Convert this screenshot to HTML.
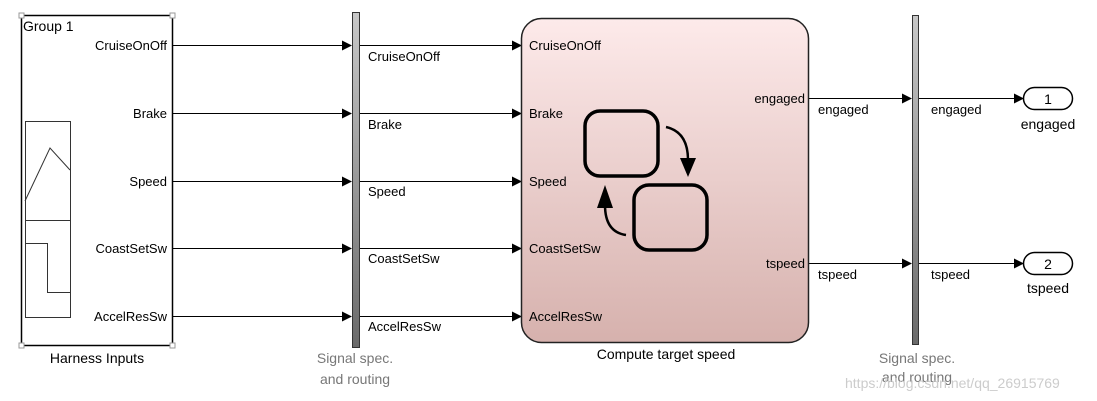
<!DOCTYPE html>
<html><head><style>body{margin:0;background:#fff}svg{display:block}text{font-family:"Liberation Sans",Arial,sans-serif;font-size:13px;fill:#000}.n{font-size:14px}</style></head><body>
<svg width="1097" height="401" viewBox="0 0 1097 401">
<defs>
<linearGradient id="cg" x1="0" y1="0" x2="0" y2="1"><stop offset="0" stop-color="#fdeaea"/><stop offset="1" stop-color="#d6b1ad"/></linearGradient>
<linearGradient id="bg" x1="0" y1="0" x2="0" y2="1"><stop offset="0" stop-color="#c8c8c8"/><stop offset="1" stop-color="#6a6a6a"/></linearGradient>
<marker id="a" markerWidth="10" markerHeight="10" refX="9" refY="5" orient="auto" markerUnits="userSpaceOnUse"><path d="M0,0 L10,5 L0,10 z" fill="#000"/></marker>
</defs>
<rect x="21.5" y="15.5" width="151" height="330" fill="#fff" stroke="#000" stroke-width="1.5"/>
<g fill="#fff" stroke="#999"><rect x="19" y="13" width="5" height="5"/><rect x="170" y="13" width="5" height="5"/><rect x="19" y="343" width="5" height="5"/><rect x="170" y="343" width="5" height="5"/></g>
<text x="23" y="31" class="n">Group 1</text>
<g text-anchor="end"><text x="167" y="50">CruiseOnOff</text><text x="167" y="118">Brake</text><text x="167" y="186">Speed</text><text x="167" y="253">CoastSetSw</text><text x="167" y="321">AccelResSw</text></g>
<g fill="none" stroke="#333" stroke-width="1"><rect x="25.5" y="121.5" width="45" height="196"/><line x1="25" y1="220.5" x2="70" y2="220.5"/><polyline points="25,201 50,148 70,170"/><polyline points="25,243.5 47.5,243.5 47.5,292.5 70,292.5"/></g>
<text x="97" y="363" text-anchor="middle" class="n">Harness Inputs</text>
<g stroke="#000" stroke-width="1" marker-end="url(#a)">
<line x1="173" y1="45.5" x2="351" y2="45.5"/><line x1="173" y1="113.5" x2="351" y2="113.5"/><line x1="173" y1="181.5" x2="351" y2="181.5"/><line x1="173" y1="248.5" x2="351" y2="248.5"/><line x1="173" y1="316.5" x2="351" y2="316.5"/>
<line x1="360" y1="45.5" x2="521" y2="45.5"/><line x1="360" y1="113.5" x2="521" y2="113.5"/><line x1="360" y1="181.5" x2="521" y2="181.5"/><line x1="360" y1="248.5" x2="521" y2="248.5"/><line x1="360" y1="316.5" x2="521" y2="316.5"/>
<line x1="809" y1="98.5" x2="911" y2="98.5"/><line x1="809" y1="263.5" x2="911" y2="263.5"/>
<line x1="919" y1="98.5" x2="1023" y2="98.5"/><line x1="919" y1="263.5" x2="1023" y2="263.5"/>
</g>
<rect x="352.5" y="12.5" width="7" height="335" fill="url(#bg)" stroke="#333"/>
<text x="368" y="61">CruiseOnOff</text><text x="368" y="129">Brake</text><text x="368" y="196">Speed</text><text x="368" y="263">CoastSetSw</text><text x="368" y="331">AccelResSw</text>
<text x="355" y="363" text-anchor="middle" class="n" style="fill:#777">Signal spec.</text><text x="355" y="384" text-anchor="middle" class="n" style="fill:#777">and routing</text>
<rect x="521.5" y="18.5" width="287" height="324" rx="20" fill="url(#cg)" stroke="#222" stroke-width="1.5"/>
<text x="529" y="50">CruiseOnOff</text><text x="529" y="118">Brake</text><text x="529" y="186">Speed</text><text x="529" y="253">CoastSetSw</text><text x="529" y="321">AccelResSw</text>
<text x="805" y="103" text-anchor="end">engaged</text><text x="805" y="268" text-anchor="end">tspeed</text>
<rect x="585" y="111" width="73" height="65" rx="15" fill="none" stroke="#000" stroke-width="3.5"/>
<rect x="634" y="185" width="73" height="65" rx="15" fill="none" stroke="#000" stroke-width="3.5"/>
<path d="M666,127 Q688,132 688,160" fill="none" stroke="#000" stroke-width="2.5"/><path d="M680,158 L696,158 L688,177 z"/>
<path d="M626,235 Q605,232 605,205" fill="none" stroke="#000" stroke-width="2.5"/><path d="M597,208 L613,208 L605,185 z"/>
<text x="666" y="359" text-anchor="middle" class="n">Compute target speed</text>
<text x="818" y="114">engaged</text><text x="818" y="279">tspeed</text>
<rect x="912.5" y="15.5" width="6" height="329" fill="url(#bg)" stroke="#333"/>
<text x="931" y="114">engaged</text><text x="931" y="279">tspeed</text>
<text x="917" y="363" text-anchor="middle" class="n" style="fill:#777">Signal spec.</text><text x="917" y="382" text-anchor="middle" class="n" style="fill:#777">and routing</text>
<rect x="1023.5" y="87.5" width="49" height="22" rx="11" fill="#fff" stroke="#000" stroke-width="1.5"/>
<text x="1048" y="104" text-anchor="middle" class="n">1</text><text x="1048" y="129" text-anchor="middle" class="n">engaged</text>
<rect x="1023.5" y="252.5" width="49" height="22" rx="11" fill="#fff" stroke="#000" stroke-width="1.5"/>
<text x="1048" y="269" text-anchor="middle" class="n">2</text><text x="1048" y="293" text-anchor="middle" class="n">tspeed</text>
<text x="845" y="388" style="fill:#ccc;font-size:14px">https://blog.csdn.net/qq_26915769</text>
</svg></body></html>
